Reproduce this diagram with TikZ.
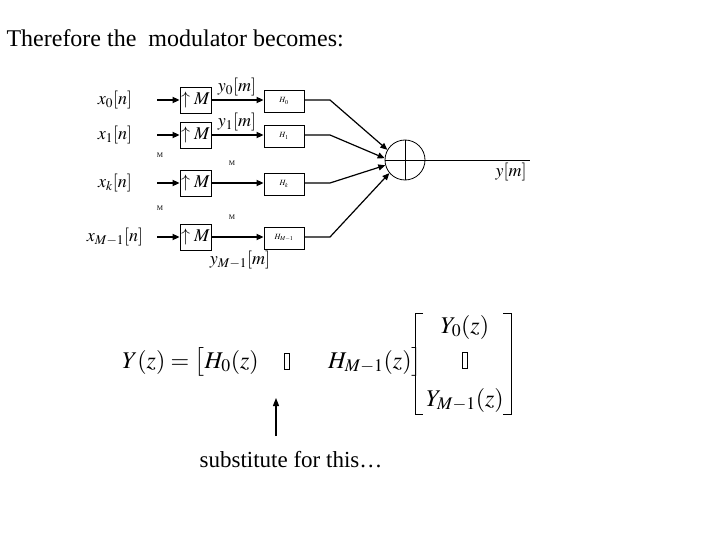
\documentclass[tikz,border=0pt]{standalone}
\usepackage{mathptmx}
\usepackage{fontspec}
\setmainfont{Liberation Serif}
\usetikzlibrary{arrows.meta}
\begin{document}
\begin{tikzpicture}[x=1pt,y=-1pt,
  arr/.style={-{Triangle[length=7pt,width=6pt]},line width=1.6pt},
  thin/.style={line width=0.8pt},
  box/.style={draw,thin,inner sep=0pt},
  lbl/.style={font=\fontsize{18}{18}\selectfont},
  tiny/.style={font=\fontsize{7}{7}\selectfont},
  eq/.style={font=\fontsize{24}{24}\selectfont}]
\useasboundingbox (0,0) rectangle (720,540);
\node[anchor=west,font=\fontsize{24}{24}\selectfont] (title) at (3,38) {Therefore the \ modulator becomes:};
% summing node
\node[draw,thin,circle,minimum size=40pt] (sum) at (405,160) {};
\draw[thin] (sum.north) -- (sum.south) (sum.west) -- (sum.east);
\coordinate (out) at (530,160);
\draw[thin] (sum.east) -- (out);
\node[lbl] (ylab) at (511,172) {$y[m]$};
\foreach \i/\y/\xl/\hl in {0/100/{x_0[n]}/{H_0},1/135/{x_1[n]}/{H_1},2/183/{x_k[n]}/{H_k},3/237/{x_{M-1}[n]}/{H_{M-1}}}{
  \node[lbl] (x\i) at (115,\y) {$\xl$};
  \coordinate (s\i) at (157,\y);
  \node[box,minimum width=31pt,minimum height=26pt,lbl] (u\i) at (195.5,\y) {$\uparrow M$};
  \node[box,minimum width=40pt,minimum height=22pt,font=\fontsize{8}{8}\selectfont] (h\i) at (284,\y+1) {$\hl$};
  \draw[arr] (s\i) -- (u\i.west);
  \draw[arr] (u\i.east) -- (h\i.west |- u\i.east);
  \coordinate (k\i) at (330,\y);
}
\draw[arr,line width=1.2pt] (h0.east |- k0) -- (k0) -- (sum.150);
\draw[arr,line width=1.2pt] (h1.east |- k1) -- (k1) -- (sum.175);
\draw[arr,line width=1.2pt] (h2.east |- k2) -- (k2) -- (sum.195);
\draw[arr,line width=1.2pt] (h3.east |- k3) -- (k3) -- (sum.220);
\node[lbl] (y0) at (237,87) {$y_0[m]$};
\node[lbl] (y1) at (237,122) {$y_1[m]$};
\node[lbl] (y3) at (240,260) {$y_{M-1}[m]$};
\node[tiny] (m1) at (160,155) {M};
\node[tiny] (m2) at (232,163) {M};
\node[tiny] (m3) at (160,208) {M};
\node[tiny] (m4) at (232,217) {M};
% equation
\node[eq,anchor=west,inner sep=0pt] (e1) at (122,362) {$Y(z)=\big[H_0(z)$};
\node[draw,thin,minimum width=5pt,minimum height=16pt,inner sep=0pt] (b1) at (287,361) {};
\node[eq,anchor=west,inner sep=0pt] (e2) at (328,362) {$H_{M-1}(z)\big]$};
\node[eq] (c1) at (465,327) {$Y_0(z)$};
\node[draw,thin,minimum width=5pt,minimum height=16pt,inner sep=0pt] (b2) at (465,360) {};
\node[eq] (c2) at (465,400) {$Y_{M-1}(z)$};
\draw[thin] (423,313) -- (415,313) -- (415,414) -- (423,414);
\draw[thin] (503,313) -- (511,313) -- (511,414) -- (503,414);
\node[font=\fontsize{23}{23}\selectfont] (sub) at (291,460) {substitute for this…};
\coordinate (at) at (276,436);
\draw[-{Triangle[length=8pt,width=6pt]},line width=1.2pt] (at) -- (276,398);
\end{tikzpicture}
\end{document}
